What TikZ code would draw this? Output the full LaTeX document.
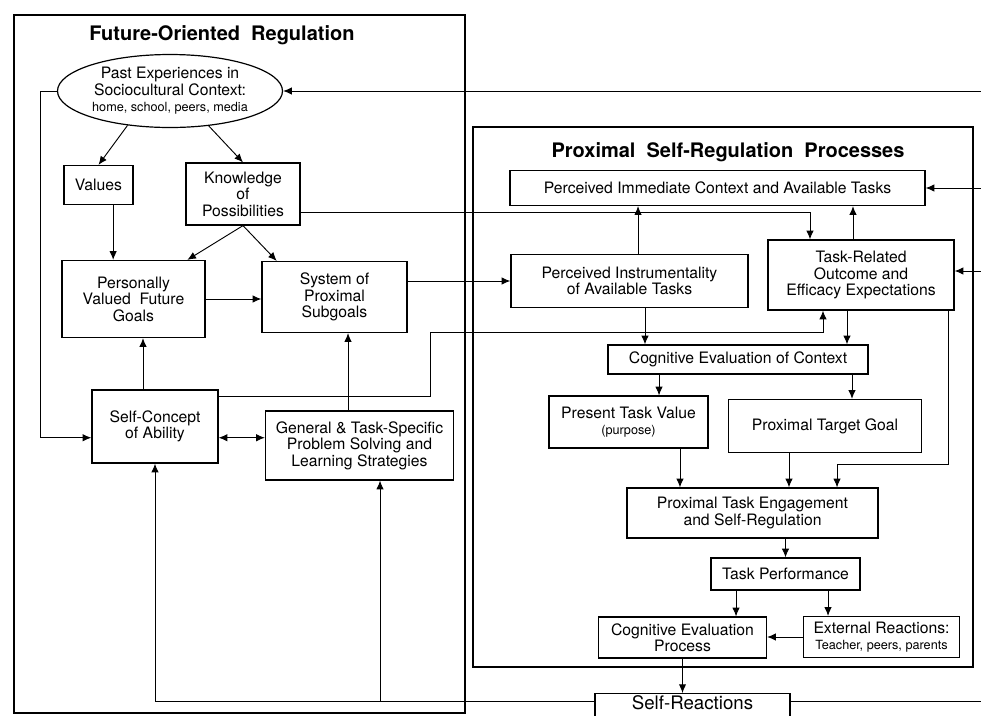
\documentclass[tikz,border=0pt]{standalone}
\usepackage{fontspec}
\setmainfont{TeX Gyre Heros}
\usetikzlibrary{arrows.meta,shapes.geometric}

\tikzset{
	box/.style={draw, line width=0.9pt, align=center, inner sep=1pt, font=\fontsize{11.8}{12.3}\selectfont},
	sz/.style 2 args={minimum width=#1*0.75pt, minimum height=#2*0.75pt},
	frame/.style={draw, line width=2pt},
	arr/.style={line width=0.7pt, -{Latex[length=6.5pt,width=5.5pt]}},
	dblarr/.style={line width=0.7pt, {Latex[length=6.5pt,width=5.5pt]}-{Latex[length=6.5pt,width=5.5pt]}},
	conn/.style={line width=0.7pt},
	ttl/.style={font=\bfseries\fontsize{15}{17}\selectfont}
}
\newcommand{\smalltxt}{\fontsize{9.5}{11}\selectfont}

\begin{document}
\begin{tikzpicture}[x=0.75pt,y=0.75pt,yscale=-1,xscale=1]
	\clip (0,0) rectangle (981,715);
	\draw[frame] (14,15) rectangle (465,713);
	\draw[frame] (473,127) rectangle (973,667);
	\node[ttl] (ltitle) at (222,35) {Future-Oriented\ \ Regulation};
	\node[ttl] (rtitle) at (728,152) {Proximal\ \ Self-Regulation\ \ Processes};
	\node[box, ellipse, inner sep=0pt, sz={225}{73}] (past) at (170,91) {Past Experiences in\\Sociocultural Context:\\{\smalltxt home, school, peers, media}};
	\node[box, sz={69}{39}] (values) at (98.5,185) {Values};
	\node[box, sz={114}{62}] (knowl) at (243,194) {Knowledge\\of\\Possibilities};
	\node[box, sz={143}{77}] (pvfg) at (133.5,299) {Personally\\Valued\ \ Future\\Goals};
	\node[box, sz={145}{71}] (sps) at (334.5,297) {System of\\Proximal\\Subgoals};
	\node[box, sz={126}{73}] (sca) at (155,426.5) {Self-Concept\\of Ability};
	\node[box, sz={188}{69}] (gts) at (359.5,445.5) {General \& Task-Specific\\Problem Solving and\\Learning Strategies};
	\node[box, sz={415}{35}] (pic) at (717.5,188) {Perceived Immediate Context and Available Tasks};
	\node[box, sz={237}{53}] (piat) at (629.5,281) {Perceived Instrumentality\\of Available Tasks};
	\node[box, sz={186}{70}] (tro) at (861,275) {Task-Related\\Outcome and\\Efficacy Expectations};
	\node[box, sz={260}{29}] (cec) at (738,359.5) {Cognitive Evaluation of Context};
	\node[box, sz={159}{52}] (ptv) at (628.5,422) {Present Task Value\\{\smalltxt (purpose)}};
	\node[box, sz={193}{53}] (ptg) at (825,426) {Proximal Target Goal};
	\node[box, sz={251}{50}] (pte) at (752.5,513) {Proximal Task Engagement\\and Self-Regulation};
	\node[box, sz={149}{32}] (tp) at (785.5,574) {Task Performance};
	\node[box, sz={168}{41}] (cep) at (682.5,637.5) {Cognitive Evaluation\\Process};
	\node[box, sz={156}{41}] (er) at (881.5,637) {External Reactions:\\{\smalltxt Teacher, peers, parents}};
	\node[box, sz={195}{0}, inner sep=0pt, text height=12pt, text depth=10pt, anchor=north, font=\fontsize{14}{16}\selectfont] (sr) at (692.5,693) {Self-Reactions};
	\coordinate (lx) at (40,0);
	\coordinate (inR1) at (981,91);
	\coordinate (inR2) at (981,188);
	\coordinate (inR3) at (981,271);
	\coordinate (outR) at (981,701);
	\draw[arr] (inR1) -- (past.east);
	\draw[arr] (past.west) -- (past.west -| lx) |- (sca.190);
	\draw[arr] (past.219) -- (values.north);
	\draw[arr] (past.318) -- (knowl.north);
	\draw[arr] ([xshift=11pt]values.south) -- ([xshift=11pt]values.south |- pvfg.north);
	\draw[arr] (knowl.south) -- (pvfg.36);
	\draw[arr] (knowl.south) -- (sps.148);
	\draw[arr] (pvfg.east) -- (pvfg.east -| sps.west);
	\draw[arr] ([xshift=-9pt]sca.north) -- ([xshift=-9pt]sca.north |- pvfg.south);
	\draw[arr] ([xshift=-8.6pt]gts.north) -- ([xshift=-8.6pt]gts.north |- sps.south);
	\draw[dblarr] (sca.350) -- (sca.350 -| gts.west);
	\draw[arr] (sca.25) -- ++(212,0) -- ++(0,-64) -| ([xshift=-28.5pt]tro.south);
	\draw[arr] ([yshift=13.5pt]knowl.east) -| ([xshift=-38.25pt]tro.north);
	\draw[arr] (piat.west -| sps.east) -- (piat.west);
	\draw[arr] ([xshift=6.4pt]piat.north) -- ([xshift=6.4pt]piat.north |- pic.south);
	\draw[arr] ([xshift=-6pt]tro.north) -- ([xshift=-6pt]tro.north |- pic.south);
	\draw[arr] (inR2) -- (inR2 -| pic.east);
	\draw[arr] (inR3) -- (inR3 -| tro.east);
	\draw[arr] ([xshift=11.6pt]piat.south) -- ([xshift=11.6pt]piat.south |- cec.north);
	\draw[arr] ([xshift=-10.5pt]tro.south) -- ([xshift=-10.5pt]tro.south |- cec.north);
	\draw[arr] ([xshift=-4.5pt]tro.south east) -- ++(0,154) -| ([xshift=63.4pt]pte.north);
	\draw[arr] ([xshift=22.9pt]ptv.north |- cec.south) -- ([xshift=22.9pt]ptv.north);
	\draw[arr] ([xshift=20.25pt]ptg.north |- cec.south) -- ([xshift=20.25pt]ptg.north);
	\draw[arr] ([xshift=38.6pt]ptv.south) -- ([xshift=38.6pt]ptv.south |- pte.north);
	\draw[arr] ([xshift=-27pt]ptg.south) -- ([xshift=-27pt]ptg.south |- pte.north);
	\draw[arr] (tp.north |- pte.south) -- (tp.north);
	\draw[arr] ([xshift=-37.1pt]tp.south) -- ([xshift=-37.1pt]tp.south |- cep.north);
	\draw[arr] ([xshift=31.9pt]tp.south) -- ([xshift=31.9pt]tp.south |- er.north);
	\draw[arr] (er.west) -- (er.west -| cep.east);
	\draw[arr] (cep.south) -- (cep.south |- sr.north);
	\draw[arr] ([yshift=6pt]sr.north west) -| (sca.south);
	\draw[arr] ([yshift=6pt]sr.north west) -| ([xshift=15.4pt]gts.south);
	\draw[conn] ([yshift=6pt]sr.north east) -- (outR);
\end{tikzpicture}
\end{document}
